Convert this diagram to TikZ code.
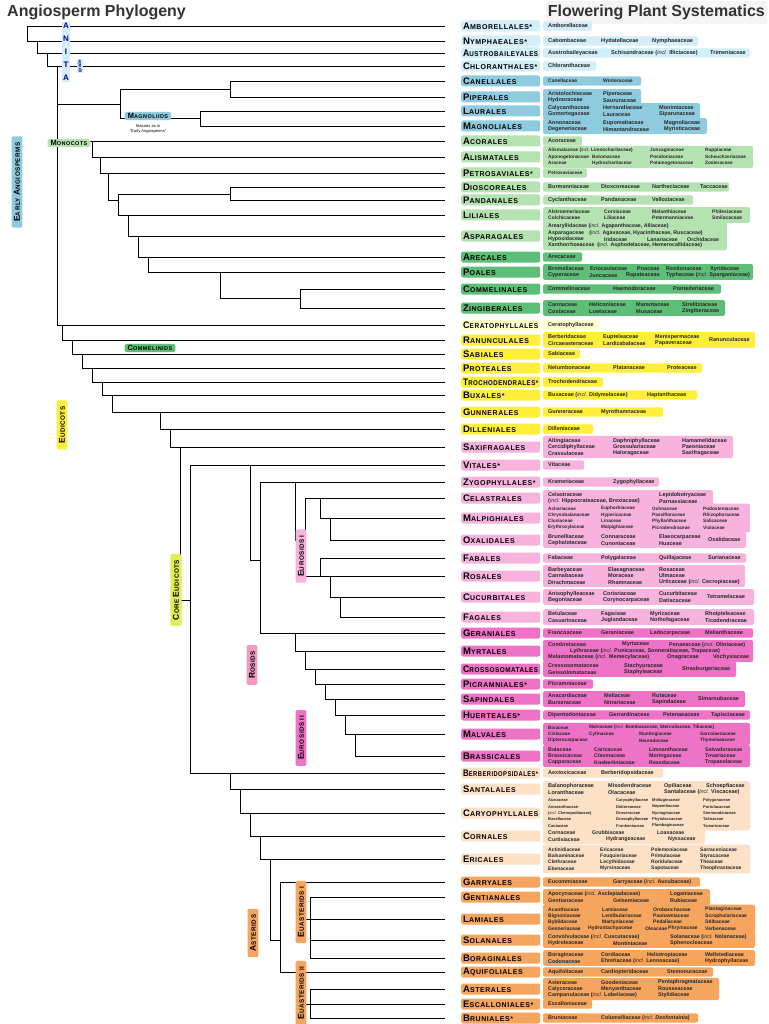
\documentclass[tikz,border=0pt]{standalone}
\usepackage{fontspec}
\usepackage{graphicx}
\setmainfont{Liberation Sans}
\newfontfamily\ordf[LetterSpace=8]{Liberation Sans}
\definecolor{anita}{HTML}{D2EEF8}
\definecolor{magn}{HTML}{8FCBDF}
\definecolor{mono}{HTML}{B5E2B1}
\definecolor{commel}{HTML}{5DBE78}
\definecolor{cerat}{HTML}{FFFFCC}
\definecolor{eud}{HTML}{FFEF3A}
\definecolor{rosid}{HTML}{F7B2DD}
\definecolor{malvid}{HTML}{EE72C6}
\definecolor{supast}{HTML}{FDE1C6}
\definecolor{aster}{HTML}{F5A55E}
\definecolor{coreeud}{HTML}{E2EC55}
\definecolor{rosidlab}{HTML}{F39AC0}
\newsavebox\ordbx
\newcommand\fitord[1]{\sbox\ordbx{#1}\ifdim\wd\ordbx>75pt\pgfmathsetmacro\sfac{75pt/\the\wd\ordbx}\scalebox{\sfac}[1]{\usebox\ordbx}\else\usebox\ordbx\fi}
\def\fs{5.6}
\tikzset{
 tree/.style={line width=0.6pt, black},
 ordbox/.style={anchor=west, fill=#1, rounded corners=2pt, minimum width=79pt, text width=75pt, align=left, minimum height=11pt, inner xsep=2pt, inner ysep=0pt},
 fam/.style={anchor=west, inner sep=0pt, font=\fontsize{\fs}{6}\selectfont\bfseries, text=black!85},
 cladelab/.style={fill=#1, rotate=90, rounded corners=1.5pt, inner xsep=6pt, inner ysep=2.5pt, font=\ordf\bfseries\fontsize{8.5}{9}\selectfont},
 hlab/.style={fill=#1, rounded corners=1.5pt, inner xsep=3pt, inner ysep=1.5pt, font=\ordf\bfseries\fontsize{7.5}{8}\selectfont},
 title/.style={font=\bfseries\fontsize{16}{16}\selectfont, text=black!80, inner sep=0pt}
}
\newcommand\incl{{\mdseries\itshape incl.}}
\def\rp{6.4}
\newcommand\ord[5]{\node[ordbox=#3] (o-#1) at (461,#2) {\fitord{\ordf\bfseries\fontsize{9.5}{10}\selectfont#4\fontsize{7}{8}\selectfont#5}}; \coordinate (#1) at (445,#2);}
\newcommand\famb[4]{\fill[#4, rounded corners=2pt] (543,{#1-(#2*\rp+3)/2}) rectangle (#3,{#1+(#2*\rp+3)/2});}
\newcommand\fr[3]{\foreach \xx/\nn in {#3}{\node[fam] at (\xx,{#1+(#2)*\rp}) {\nn};}}
\newcommand\cl[5]{\node[cladelab=#4] (#1) at (#2,#3) {#5};}
\newcommand\sm{\fontsize{6.3}{7}\selectfont}
\newcommand\bg{\fontsize{8.5}{9}\selectfont}
\newcommand\hs{\fontsize{5.5}{6}\selectfont}
\begin{document}
\begin{tikzpicture}[x=1pt,y=-1pt]
\useasboundingbox (0,0) rectangle (768,1024);
\fill[white] (0,0) rectangle (768,1024);
\fill[black!4] (546,1) rectangle (767,24);
\node[title, anchor=west] (t1) at (7,12) {Angiosperm Phylogeny};
\node[title, anchor=east] (t2) at (765,12) {Flowering Plant Systematics};

% ---------- orders and families ----------
\ord{amb}{26}{anita}{A}{MBORELLALES*}
\famb{26}{1}{592}{anita}\fr{26}{0}{548/Amborellaceae}
\ord{nym}{41}{anita}{N}{YMPHAEALES*}
\famb{41}{1}{698}{anita}\fr{41}{0}{548/Cabombaceae,601/Hydatellaceae,652/Nymphaeaceae}
\ord{aus}{53}{anita}{A}{USTROBAILEYALES}
\famb{53}{1}{750}{anita}\fr{53}{0}{548/Austrobaileyaceae,611/{Schisandraceae (\incl{} Illiciaceae)},710/Trimeniaceae}
\ord{chl}{66}{anita}{C}{HLORANTHALES*}
\famb{66}{1}{596}{anita}\fr{66}{0}{548/Chloranthaceae}
\def\fs{5.0}
\ord{can}{81}{magn}{C}{ANELLALES}
\famb{81}{1}{641}{magn}\fr{81}{0}{548/Canellaceae,603/Winteraceae}
\def\fs{5.5}
\ord{pip}{97}{magn}{P}{IPERALES}
\famb{97}{2}{641}{magn}\fr{97}{-0.5}{548/Aristolochiaceae,603/Piperaceae}\fr{97}{0.5}{548/Hydnoraceae,603/Saururaceae}
\ord{lau}{111}{magn}{L}{AURALES}
\famb{111}{2}{700}{magn}\fr{111}{-0.5}{548/Calycanthaceae,603/Hernandiaceae,659/Monimiaceae}\fr{111}{0.5}{548/Gomortegaceae,603/Lauraceae,659/Siparunaceae}
\ord{mag}{126}{magn}{M}{AGNOLIALES}
\famb{126}{2}{707}{magn}\fr{126}{-0.5}{548/Annonaceae,603/Eupomatiaceae,664/Magnoliaceae}\fr{126}{0.5}{548/Degeneriaceae,603/Himantandraceae,664/Myristicaceae}
\ord{aco}{141}{mono}{A}{CORALES}
\famb{141}{1}{582}{mono}\fr{141}{0}{548/Acoraceae}
\def\fs{4.7}
\ord{ali}{157}{mono}{A}{LISMATALES}
\famb{157}{3}{753}{mono}\fr{157}{-1}{548/{Alismataceae (\incl{} Limnocharitaceae)},650/Juncaginaceae,705/Ruppiaceae}\fr{157}{0}{548/Aponogetonaceae,592/Butomaceae,650/Posidoniaceae,705/Scheuchzeriaceae}\fr{157}{1}{548/Araceae,592/Hydrocharitaceae,650/Potamogetonaceae,705/Zosteraceae}
\ord{pet}{173}{mono}{P}{ETROSAVIALES*}
\famb{173}{1}{587}{mono}\fr{173}{0}{548/Petrosaviaceae}
\def\fs{5.5}
\ord{dio}{187}{mono}{D}{IOSCOREALES}
\famb{187}{1}{729}{mono}\fr{187}{0}{548/Burmanniaceae,601/Dioscoreaceae,652/Nartheciaceae,700/Taccaceae}
\ord{pan}{200}{mono}{P}{ANDANALES}
\famb{200}{1}{693}{mono}\fr{200}{0}{548/Cyclanthaceae,601/Pandanaceae,652/Velloziaceae}
\def\fs{5.0}
\ord{lil}{215}{mono}{L}{ILIALES}
\famb{215}{2}{750}{mono}\fr{215}{-0.5}{548/Alstroemeriaceae,604/Corsiaceae,652/Melanthiaceae,712/Philesiaceae}\fr{215}{0.5}{548/Colchicaceae,604/Liliaceae,652/Petermanniaceae,712/Smilacaceae}
\def\fs{5.3}
\ord{asp}{236}{mono}{A}{SPARAGALES}
\famb{236}{4}{727}{mono}\fr{236}{-1.5}{548/{Amaryllidaceae (\incl{} Agapanthaceae, Alliaceae)}}\fr{236}{-0.5}{548/{Asparagaceae\quad (\incl{} Agavaceae, Hyacinthaceae, Ruscaceae)}}\fr{236}{0.5}{548/Hypoxidaceae,604/Iridaceae,647/Lanariaceae,687/Orchidaceae}\fr{236}{1.5}{548/{Xanthorrhoeaceae\ \ (\incl{} Asphodelaceae, Hemerocallidaceae)}}
\def\fs{5.5}
\ord{are}{257}{commel}{A}{RECALES}
\famb{257}{1}{582}{commel}\fr{257}{0}{548/Arecaceae}
\ord{poa}{272}{commel}{P}{OALES}
\famb{272}{2}{753}{commel}\fr{272}{-0.5}{548/Bromeliaceae,590/Eriocaulaceae,637/Poaceae,666/Restionaceae,710/Xyridaceae}\fr{272}{0.5}{548/Cyperaceae,589/Juncaceae,626/Rapateaceae,666/{Typhaceae (\incl{} Sparganiaceae)}}
\ord{com}{289}{commel}{C}{OMMELINALES}
\famb{289}{1}{721}{commel}\fr{289}{0}{548/Commelinaceae,613/Haemodoraceae,673/Pontederiaceae}
\ord{zin}{308}{commel}{Z}{INGIBERALES}
\famb{308}{2}{725}{commel}\fr{308}{-0.5}{548/Cannaceae,589/Heliconiaceae,636/Marantaceae,682/Strelitziaceae}\fr{308}{0.5}{548/Costaceae,589/Lowiaceae,636/Musaceae,682/Zingiberaceae}
\ord{cer}{325}{cerat}{C}{ERATOPHYLLALES}
\famb{325}{1}{600}{cerat}\fr{325}{0}{548/Ceratophyllaceae}
\ord{ran}{340}{eud}{R}{ANUNCULALES}
\famb{340}{2}{755}{eud}\fr{340}{-0.5}{548/Berberidaceae,603/Eupteleaceae,655/Menispermaceae}\fr{340}{0.5}{548/Circaeasteraceae,603/Lardizabalaceae,655/Papaveraceae}\fr{340}{0}{709/Ranunculaceae}
\ord{sab}{354}{eud}{S}{ABIALES}
\famb{354}{1}{580}{eud}\fr{354}{0}{548/Sabiaceae}
\ord{pro}{368}{eud}{P}{ROTEALES}
\famb{368}{1}{702}{eud}\fr{368}{0}{548/Nelumbonaceae,613/Platanaceae,667/Proteaceae}
\ord{tro}{382}{eud}{T}{ROCHODENDRALES*}
\famb{382}{1}{603}{eud}\fr{382}{0}{548/Trochodendraceae}
\ord{bux}{395}{eud}{B}{UXALES*}
\famb{395}{1}{697}{eud}\fr{395}{0}{548/{Buxaceae (\incl{} Didymelaceae)},647/Haptanthaceae}
\ord{gun}{412}{eud}{G}{UNNERALES}
\famb{412}{1}{663}{eud}\fr{412}{0}{548/Gunneraceae,601/Myrothamnaceae}
\ord{dil}{429}{eud}{D}{ILLENIALES}
\famb{429}{1}{593}{eud}\fr{429}{0}{548/Dilleniaceae}
\ord{sax}{447}{rosid}{S}{AXIFRAGALES}
\famb{447}{3}{733}{rosid}\fr{447}{-1}{548/Altingiaceae,613/Daphniphyllaceae,682/Hamamelidaceae}\fr{447}{0}{548/Cercidiphyllaceae,613/Grossulariaceae,682/Paeoniaceae}\fr{447}{1}{548/Crassulaceae,613/Haloragaceae,682/Saxifragaceae}
\ord{vit}{465}{rosid}{V}{ITALES*}
\famb{465}{1}{584}{rosid}\fr{465}{0}{548/Vitaceae}
\ord{zyg}{482}{rosid}{Z}{YGOPHYLLALES*}
\famb{482}{1}{659}{rosid}\fr{482}{0}{548/Krameriaceae,613/Zygophyllaceae}
\ord{cel}{498}{rosid}{C}{ELASTRALES}
\famb{498}{2}{713}{rosid}\fr{498}{-0.5}{548/Celastraceae,659/Lepidobotryaceae}\fr{498}{0.5}{548/{(\incl{} Hippocrateaceae, Brexiaceae)},659/Parnassiaceae}
\def\fs{4.7}
\ord{mal}{518}{rosid}{M}{ALPIGHIALES}
\famb{518}{4}{750}{rosid}\fr{518}{-1.5}{548/Achariaceae,601/Euphorbiaceae,652/Ochnaceae,703/Podostemaceae}\fr{518}{-0.5}{548/Chrysobalanaceae,601/Hypericaceae,652/Passifloraceae,703/Rhizophoraceae}\fr{518}{0.5}{548/Clusiaceae,601/Linaceae,652/Phyllanthaceae,703/Salicaceae}\fr{518}{1.5}{548/Erythroxylaceae,601/Malpighiaceae,652/Picrodendraceae,703/Violaceae}
\def\fs{5.5}
\ord{oxa}{540}{rosid}{O}{XALIDALES}
\famb{540}{2}{746}{rosid}\fr{540}{-0.5}{548/Brunelliaceae,601/Connaraceae,659/Elaeocarpaceae}\fr{540}{0.5}{548/Cephalotaceae,601/Cunoniaceae,659/Huaceae}\fr{540}{0}{708/Oxalidaceae}
\ord{fab}{558}{rosid}{F}{ABALES}
\famb{558}{1}{746}{rosid}\fr{558}{0}{548/Fabaceae,601/Polygalaceae,659/Quillajaceae,708/Surianaceae}
\ord{ros}{576}{rosid}{R}{OSALES}
\famb{576}{3}{745}{rosid}\fr{576}{-1}{548/Barbeyaceae,608/Elaeagnaceae,659/Rosaceae}\fr{576}{0}{548/Cannabaceae,608/Moraceae,659/Ulmaceae}\fr{576}{1}{548/Dirachmaceae,608/Rhamnaceae,659/{Urticaceae (\incl{} Cecropiaceae)}}
\ord{cuc}{597}{rosid}{C}{UCURBITALES}
\famb{597}{2}{754}{rosid}\fr{597}{-0.5}{548/Anisophylleaceae,603/Coriariaceae,659/Cucurbitaceae}\fr{597}{0.5}{548/Begoniaceae,603/Corynocarpaceae,659/Datiscaceae}\fr{597}{0}{707/Tetramelaceae}
\ord{fag}{617}{rosid}{F}{AGALES}
\famb{617}{2}{754}{rosid}\fr{617}{-0.5}{548/Betulaceae,601/Fagaceae,650/Myricaceae,705/Rhoipteleaceae}\fr{617}{0.5}{548/Casuarinaceae,601/Juglandaceae,650/Nothofagaceae,705/Ticodendraceae}
\ord{ger}{633}{malvid}{G}{ERANIALES}
\famb{633}{1}{753}{malvid}\fr{633}{0}{548/Francoaceae,601/Geraniaceae,650/Ledocarpaceae,705/Melianthaceae}
\ord{myr}{651}{malvid}{M}{YRTALES}
\famb{651}{3}{753}{malvid}\fr{651}{-1}{548/Combretaceae,622/Myrtaceae,669/{Penaeaceae (\incl{} Oliniaceae)}}\fr{651}{0}{570/{Lythraceae (\incl{} Punicaceae, Sonneratiaceae, Trapaceae)}}\fr{651}{1}{548/{Melastomataceae (\incl{} Memecylaceae)},667/Onagraceae,713/Vochysiaceae}
\ord{cro}{669}{malvid}{C}{ROSSOSOMATALES}
\famb{669}{2}{736}{malvid}\fr{669}{-0.5}{548/Crossosomataceae,624/Stachyuraceae}\fr{669}{0.5}{548/Geissolomataceae,624/Staphyleaceae}\fr{669}{0}{682/Strasburgeriaceae}
\ord{pic}{684}{malvid}{P}{ICRAMNIALES*}
\famb{684}{1}{593}{malvid}\fr{684}{0}{548/Picramniaceae}
\ord{sap}{699}{malvid}{S}{APINDALES}
\famb{699}{2}{745}{malvid}\fr{699}{-0.5}{548/Anacardiaceae,604/Meliaceae,652/Rutaceae}\fr{699}{0.5}{548/Burseraceae,604/Nitrariaceae,652/Sapindaceae}\fr{699}{0}{698/Simaroubaceae}
\ord{hue}{715}{malvid}{H}{UERTEALES*}
\famb{715}{1}{750}{malvid}\fr{715}{0}{548/Dipentodontaceae,609/Gerrardinaceae,663/Petenaeaceae,711/Tapisciaceae}
\def\fs{4.7}
\ord{mlv}{734}{malvid}{M}{ALVALES}
\famb{734}{3}{750}{malvid}\fr{734}{-1}{548/Bixaceae,589/{Malvaceae (\incl{} Bombacaceae, Sterculiaceae, Tiliaceae)}}\fr{734}{0}{548/Cistaceae,589/Cytinaceae,639/Muntingiaceae,700/Sarcolaenaceae}\fr{734}{1}{548/Dipterocarpaceae,639/Neuradaceae,700/Thymelaeaceae}
\def\fs{5.3}
\ord{bra}{756}{malvid}{B}{RASSICALES}
\famb{756}{3}{750}{malvid}\fr{756}{-1}{548/Bataceae,594/Caricaceae,649/Limnanthaceae,705/Salvadoraceae}\fr{756}{0}{548/Brassicaceae,594/Cleomaceae,649/Moringaceae,705/Tovariaceae}\fr{756}{1}{548/Capparaceae,594/Koeberliniaceae,649/Resedaceae,705/Tropaeolaceae}
\def\fs{5.5}
\ord{ber}{773}{supast}{B}{ERBERIDOPSIDALES*}
\famb{773}{1}{663}{supast}\fr{773}{0}{548/Aextoxicaceae,601/Berberidopsidaceae}
\ord{san}{789}{supast}{S}{ANTALALES}
\famb{789}{2}{750}{supast}\fr{789}{-0.5}{548/Balanophoraceae,608/Misodendraceae,664/Opiliaceae,706/Schoepfiaceae}\fr{789}{0.5}{548/Loranthaceae,608/Olacaceae,664/{Santalaceae (\incl{} Viscaceae)}}
\def\fs{4.0}
\ord{car}{813}{supast}{C}{ARYOPHYLLALES}
\famb{813}{5}{750}{supast}\fr{813}{-2}{548/Aizoaceae,616/Caryophyllaceae,652/Molluginaceae,703/Polygonaceae}\fr{813}{-1}{548/Amaranthaceae,616/Didiereaceae,652/Nepenthaceae,703/Portulacaceae}\fr{813}{0}{548/{(\incl{} Chenopodiaceae)},616/Droseraceae,652/Nyctaginaceae,703/Simmondsiaceae}\fr{813}{1}{548/Basellaceae,616/Drosophyllaceae,652/Phytolaccaceae,703/Talinaceae}\fr{813}{2}{548/Cactaceae,616/Frankeniaceae,652/Plumbaginaceae,703/Tamaricaceae}
\def\fs{5.3}
\ord{cor}{836}{supast}{C}{ORNALES}
\famb{836}{2}{705}{supast}\fr{836}{-0.5}{548/Cornaceae,592/Grubbiaceae,657/Loasaceae}\fr{836}{0.5}{548/Curtisiaceae,606/Hydrangeaceae,668/Nyssaceae}
\def\fs{5.0}
\ord{eri}{859}{supast}{E}{RICALES}
\famb{859}{4}{750}{supast}\fr{859}{-1.5}{548/Actinidiaceae,600/Ericaceae,651/Polemoniaceae,700/Sarraceniaceae}\fr{859}{-0.5}{548/Balsaminaceae,600/Fouquieriaceae,651/Primulaceae,700/Styracaceae}\fr{859}{0.5}{548/Clethraceae,600/Lecythidaceae,651/Roridulaceae,700/Theaceae}\fr{859}{1.5}{548/Ebenaceae,600/Myrsinaceae,651/Sapotaceae,700/Theophrastaceae}
\def\fs{5.4}
\ord{gar}{882}{aster}{G}{ARRYALES}
\famb{882}{1}{700}{aster}\fr{882}{0}{548/Eucommiaceae,613/{Garryaceae (\incl{} Aucubaceae)}}
\ord{gen}{897}{aster}{G}{ENTIANALES}
\famb{897}{2}{710}{aster}\fr{897}{-0.5}{548/{Apocynaceae (\incl{} Asclepiadaceae)},670/Loganiaceae}\fr{897}{0.5}{548/Gentianaceae,613/Gelsemiaceae,670/Rubiaceae}
\def\fs{5.0}
\ord{lam}{919}{aster}{L}{AMIALES}
\famb{919}{4}{755}{aster}\fr{919}{-1.5}{548/Acanthaceae,602/Lamiaceae,653/Orobanchaceae,705/Plantaginaceae}\fr{919}{-0.5}{548/Bignoniaceae,602/Lentibulariaceae,653/Paulowniaceae,705/Scrophulariaceae}\fr{919}{0.5}{548/Byblidaceae,602/Martyniaceae,653/Pedaliaceae,705/Stilbaceae}\fr{919}{1.5}{548/Gesneriaceae,588/Hydrostachyaceae,645/Oleaceae,668/Phrymaceae,705/Verbenaceae}
\def\fs{5.4}
\ord{sol}{940}{aster}{S}{OLANALES}
\famb{940}{2}{755}{aster}\fr{940}{-0.5}{548/{Convolvulaceae (\incl{} Cuscutaceae)},670/{Solanaceae (\incl{} Nolanaceae)}}\fr{940}{0.5}{548/Hydroleaceae,613/Montiniaceae,670/Sphenocleaceae}
\ord{bor}{958}{aster}{B}{ORAGINALES}
\famb{958}{2}{755}{aster}\fr{958}{-0.5}{548/Boraginaceae,601/Cordiaceae,647/Heliotropiaceae,705/Wellstediaceae}\fr{958}{0.5}{548/Codonaceae,601/{Ehretiaceae (\incl{} Lennoaceae)},705/Hydrophyllaceae}
\ord{aqu}{972}{aster}{A}{QUIFOLIALES}
\famb{972}{1}{713}{aster}\fr{972}{0}{548/Aquifoliaceae,601/Cardiopteridaceae,667/Stemonuraceae}
\ord{ast}{989}{aster}{A}{STERALES}
\famb{989}{3}{719}{aster}\fr{989}{-1}{548/Asteraceae,601/Goodeniaceae,658/Pentaphragmataceae}\fr{989}{0}{548/Calyceraceae,601/Menyanthaceae,658/Rousseaceae}\fr{989}{1}{548/{Campanulaceae (\incl{} Lobeliaceae)},658/Stylidiaceae}
\ord{esc}{1004}{aster}{E}{SCALLONIALES*}
\famb{1004}{1}{592}{aster}\fr{1004}{0}{548/Escalloniaceae}
\ord{bru}{1018}{aster}{B}{RUNIALES*}
\famb{1018}{1}{698}{aster}\fr{1018}{0}{548/Bruniaceae,601/{Columelliaceae (\incl{} \textit{Desfontainia})}}

% ---------- tree ----------
\coordinate (r0) at (27,26);
\coordinate (n1) at (37,41);
\coordinate (n2) at (47,53);
\coordinate (n3) at (57,66);
\coordinate (mgn) at (120,104);
\coordinate (cp) at (230,89);
\coordinate (lm) at (200,118);
\coordinate (mon) at (92,141);
\coordinate (m1) at (100,157);
\coordinate (m2) at (108,173);
\coordinate (m3) at (118,200);
\coordinate (dp) at (230,194);
\coordinate (m4) at (128,215);
\coordinate (m5) at (138,236);
\coordinate (cml) at (148,257);
\coordinate (c1) at (220,272);
\coordinate (c2) at (300,298);
\coordinate (n4) at (62,325);
\coordinate (eu) at (72,340);
\coordinate (e1) at (82,354);
\coordinate (e2) at (92,368);
\coordinate (e3) at (102,382);
\coordinate (e4) at (112,395);
\coordinate (core) at (160,412);
\coordinate (k1) at (170,429);
\coordinate (k2) at (180,447);
\coordinate (k3) at (190,600);
\coordinate (rs) at (250,465);
\coordinate (eur) at (260,560);
\coordinate (fb) at (295,482);
\coordinate (f1) at (305,540);
\coordinate (f2) at (320,498);
\coordinate (f4) at (330,518);
\coordinate (f3) at (320,576);
\coordinate (f5) at (330,576);
\coordinate (f6) at (340,597);
\coordinate (mv) at (295,633);
\coordinate (v1) at (305,651);
\coordinate (v2) at (315,669);
\coordinate (v3) at (325,684);
\coordinate (v4) at (335,699);
\coordinate (v5) at (345,715);
\coordinate (v6) at (355,734);
\coordinate (sup) at (230,773);
\coordinate (s1) at (240,789);
\coordinate (s2) at (250,813);
\coordinate (as0) at (260,836);
\coordinate (a1) at (270,859);
\coordinate (a2) at (280,940);
\coordinate (lmd) at (300,882);
\coordinate (a3) at (310,919);
\coordinate (cpd) at (300,972);
\coordinate (a4) at (310,1004);
\foreach \p/\c in {r0/amb,r0/n1,n1/nym,n1/n2,n2/aus,n2/n3,n3/chl,n3/mgn,n3/mon,n3/n4,
 mgn/cp,mgn/lm,cp/can,cp/pip,lm/lau,lm/mag,
 mon/aco,mon/m1,m1/ali,m1/m2,m2/pet,m2/m3,m3/dp,m3/m4,dp/dio,dp/pan,m4/lil,m4/m5,m5/asp,m5/cml,
 cml/are,cml/c1,c1/poa,c1/c2,c2/com,c2/zin,
 n4/cer,n4/eu,eu/ran,eu/e1,e1/sab,e1/e2,e2/pro,e2/e3,e3/tro,e3/e4,e4/bux,e4/core,
 core/gun,core/k1,k1/dil,k1/k2,k2/sax,k2/k3,k3/rs,k3/sup,
 rs/vit,rs/eur,eur/fb,eur/mv,fb/zyg,fb/f1,f1/f2,f1/f3,f2/cel,f2/f4,f4/mal,f4/oxa,f3/fab,f3/f5,f5/ros,f5/f6,f6/cuc,f6/fag,
 mv/ger,mv/v1,v1/myr,v1/v2,v2/cro,v2/v3,v3/pic,v3/v4,v4/sap,v4/v5,v5/hue,v5/v6,v6/mlv,v6/bra,
 sup/ber,sup/s1,s1/san,s1/s2,s2/car,s2/as0,as0/cor,as0/a1,a1/eri,a1/a2,a2/lmd,a2/cpd,
 lmd/gar,lmd/a3,a3/gen,a3/lam,a3/sol,a3/bor,cpd/aqu,cpd/a4,a4/ast,a4/esc,a4/bru}
 {\draw[tree] (\p) |- (\c);}

% ---------- clade labels ----------
\cl{lab-early}{17}{182}{magn}{E\sm ARLY \bg A\sm NGIOSPERMS}
\node[fill=anita, inner sep=1.5pt, align=center, font=\bfseries\fontsize{8}{13}\selectfont, text=blue!60!black] (lab-anita) at (66,52) {A\\N\\I\\T\\A};
\node[fill=anita, rotate=90, inner sep=1pt, font=\bfseries\fontsize{4.5}{5}\selectfont, text=blue!60!black] (lab-grade) at (80,66) {grade};
\node[hlab=magn] (lab-magn) at (148,116) {M\hs AGNOLIIDS};
\node[font=\fontsize{4}{4.5}\selectfont, align=center, inner sep=0pt] (lab-magn2) at (148,129) {features as in\\``Early Angiosperms''};
\node[hlab=mono] (lab-mono) at (69,143) {M\hs ONOCOTS};
\node[hlab=commel] (lab-commel) at (150,348) {C\hs OMMELINIDS};
\cl{lab-eud}{62}{425}{eud}{E\sm UDICOTS}
\cl{lab-core}{176}{590}{coreeud}{C\sm ORE \bg E\sm UDICOTS}
\cl{lab-rosids}{252}{665}{rosidlab}{R\sm OSIDS}
\cl{lab-er1}{301}{556}{rosid}{E\sm UROSIDS I}
\cl{lab-er2}{301}{738}{malvid}{E\sm UROSIDS II}
\cl{lab-ast}{253}{933}{aster}{A\sm STERIDS}
\cl{lab-ea1}{301}{912}{aster}{E\sm UASTERIDS I}
\cl{lab-ea2}{301}{993}{aster}{E\sm UASTERIDS II}
\end{tikzpicture}
\end{document}
